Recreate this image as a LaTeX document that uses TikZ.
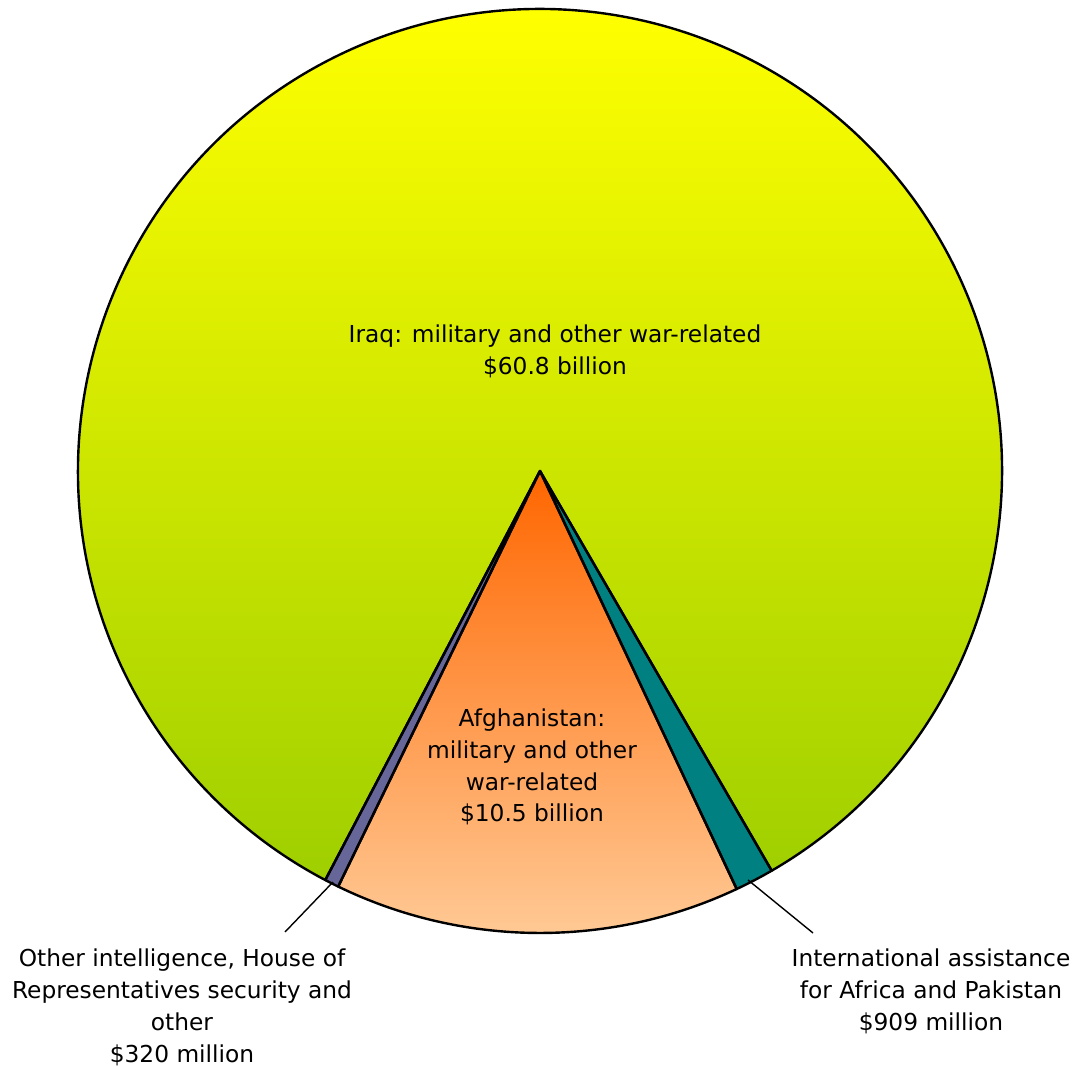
\documentclass[tikz,border=0pt]{standalone}
\usepackage{fontspec}
\setmainfont{DejaVu Sans}
\begin{document}
\begin{tikzpicture}[x=1pt,y=1pt,
  slice/.style={draw=black,line width=2.4pt,line join=round},
  leader/.style={draw=black,line width=1.4pt},
  lbl/.style={align=center,inner sep=0pt,font=\fontsize{23.3}{31.8}\selectfont}]
\definecolor{iraqtop}{HTML}{FFFF00}
\definecolor{iraqbot}{HTML}{99CC00}
\definecolor{afgtop}{HTML}{FF6600}
\definecolor{afgbot}{HTML}{FFCC99}
\definecolor{intl}{HTML}{008080}
\definecolor{othr}{HTML}{666699}
\useasboundingbox (0,0) rectangle (1075,1067);
\fill[white] (0,0) rectangle (1075,1067);
\coordinate (C) at (540,596);
\def\R{462}
\def\aA{242.3}
\def\aB{244.1}
\def\aC{295.2}
\def\aD{300.1}
% Iraq (full circle shading, others on top)
\shade[top color=iraqtop,bottom color=iraqbot] (C) circle[radius=\R];
% Afghanistan
\shade[top color=afgtop,bottom color=afgbot] (C) -- ++(\aB:\R) arc[start angle=\aB,end angle=\aC,radius=\R] -- cycle;
% International
\fill[intl] (C) -- ++(\aC:\R) arc[start angle=\aC,end angle=\aD,radius=\R] -- cycle;
% Other
\fill[othr] (C) -- ++(\aA:\R) arc[start angle=\aA,end angle=\aB,radius=\R] -- cycle;
% outlines
\draw[slice] (C) -- ++(\aD:\R) arc[start angle=\aD,end angle=\aA+360,radius=\R] -- cycle;
\draw[slice] (C) -- ++(\aB:\R) arc[start angle=\aB,end angle=\aC,radius=\R] -- cycle;
\draw[slice] (C) -- ++(\aC:\R) arc[start angle=\aC,end angle=\aD,radius=\R] -- cycle;
\draw[slice] (C) -- ++(\aA:\R) arc[start angle=\aA,end angle=\aB,radius=\R] -- cycle;
% labels
\node[lbl] (iraq) at (555,716) {Iraq: military and other war-related\\\$60.8 billion};
\node[lbl] (afg) at (532,300) {Afghanistan:\\military and other\\war-related\\\$10.5 billion};
\node[lbl] (oth) at (182,59.5) {Other intelligence, House of\\Representatives security and\\other\\\$320 million};
\node[lbl] (int) at (931,75.5) {International assistance\\for Africa and Pakistan\\\$909 million};
% leaders
\coordinate (oS) at (333,185);
\coordinate (oE) at (285,135);
\coordinate (iS) at (748,187);
\coordinate (iE) at (813,134);
\draw[leader] (oS) -- (oE);
\draw[leader] (iS) -- (iE);
\end{tikzpicture}
\end{document}
